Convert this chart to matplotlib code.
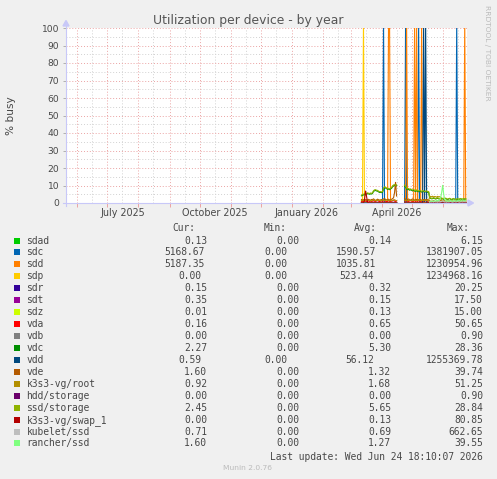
import numpy as np
import pandas as pd
import matplotlib
matplotlib.use('Agg')
import matplotlib.pyplot as plt
import matplotlib.dates as mdates
from matplotlib.patches import Rectangle, Polygon
from matplotlib.lines import Line2D

W, H, DPI = 497, 479, 100
nan = np.nan

# ---------------- data ----------------
title = "Utilization per device - by year"
ylabel = "% busy"
end_time = pd.Timestamp("2026-06-24 18:10:07")
start_time = end_time - pd.Timedelta(days=400)
data_start = pd.Timestamp("2026-03-11 12:00")
n_days = 105
GAP = [nan] * 7

names = ["sdad", "sdc", "sdd", "sdp", "sdr", "sdt", "sdz", "vda", "vdb", "vdc",
         "vdd", "vde", "k3s3-vg/root", "hdd/storage", "ssd/storage",
         "k3s3-vg/swap_1", "kubelet/ssd", "rancher/ssd"]
colors = ["#00CC00", "#0066B3", "#FF8000", "#FFCC00", "#330099", "#990099",
          "#CCFF00", "#FF0000", "#808080", "#008F00", "#00487D", "#B35A00",
          "#B38F00", "#6B006B", "#8FB300", "#B30000", "#BEBEBE", "#80FF80"]
cur_vals = [0.13, 5168.67, 5187.35, 0.00, 0.15, 0.35, 0.01, 0.16, 0.00, 2.27,
            0.59, 1.60, 0.92, 0.00, 2.45, 0.00, 0.71, 1.60]
min_vals = [0.00] * 18
avg_vals = [0.14, 1590.57, 1035.81, 523.44, 0.32, 0.15, 0.13, 0.65, 0.00, 5.30,
            56.12, 1.32, 1.68, 0.00, 5.65, 0.13, 0.69, 1.27]
max_vals = [6.15, 1381907.05, 1230954.96, 1234968.16, 20.25, 17.50, 15.00, 50.65,
            0.90, 28.36, 1255369.78, 39.74, 51.25, 0.90, 28.84, 80.85, 662.65, 39.55]

ssd_storage = ([4.5, 4.8, 5.0, 5.2, 5.0, 5.5, 5.8, 5.6, 5.4, 5.7, 5.5, 5.9,
                7.0, 7.5, 7.6, 7.3, 7.2, 6.8, 6.4, 6.5, 6.3, 6.6, 8.5, 9.3, 9.0,
                8.6, 8.2, 8.4, 8.0, 8.5, 8.8, 9.8, 10.3, 10.5, 10.1, 10.4] + GAP +
               [10.2, 9.5, 8.6, 8.0, 8.3, 7.8, 8.1, 7.6, 7.4, 7.8, 7.2, 7.0, 7.5,
                7.1, 6.8, 7.3, 7.0, 6.6, 7.2, 6.9, 6.5, 6.8, 7.0, 6.4, 6.6] +
               [3.2, 2.9, 2.6, 2.8, 3.1, 2.7, 2.5, 2.8, 3.0, 2.6, 2.4, 2.7, 2.9,
                2.5, 2.3, 2.6, 2.8, 2.4, 2.2, 2.5, 2.7, 2.3, 2.1, 2.4, 2.6, 2.2,
                2.0, 2.3, 2.5, 2.1, 2.4, 2.6, 2.2, 2.3, 2.5, 2.4, 2.45])
vdc = ([4.1, 4.4, 4.6, 4.9, 4.7, 5.1, 5.4, 5.2, 5.0, 5.3, 5.1, 5.5, 6.6, 7.0,
        7.2, 6.9, 6.8, 6.4, 6.0, 6.1, 5.9, 6.2, 8.0, 8.8, 8.6, 8.2, 7.8, 8.0,
        7.6, 8.1, 8.4, 9.3, 9.8, 10.0, 9.6, 9.9] + GAP +
       [9.7, 9.0, 8.1, 7.6, 7.8, 7.3, 7.6, 7.2, 7.0, 7.3, 6.8, 6.6, 7.0, 6.7,
        6.4, 6.8, 6.6, 6.2, 6.7, 6.5, 6.1, 6.4, 6.6, 6.0, 6.2] +
       [2.9, 2.6, 2.4, 2.5, 2.8, 2.5, 2.3, 2.5, 2.7, 2.4, 2.2, 2.5, 2.6, 2.3,
        2.1, 2.4, 2.5, 2.2, 2.0, 2.3, 2.5, 2.1, 1.9, 2.2, 2.4, 2.0, 1.8, 2.1,
        2.3, 1.9, 2.2, 2.4, 2.0, 2.1, 2.3, 2.2, 2.27])
vda = ([0.8, 1.2, 0.9, 1.5, 1.1, 0.7, 1.0, 1.3, 0.9, 1.2, 0.8, 1.1, 1.4, 1.0,
        0.9, 1.2, 1.6, 1.1, 0.8, 1.0, 1.3, 0.9, 1.2, 1.5, 1.0, 0.8, 1.1, 1.4,
        0.9, 1.2, 1.0, 1.3, 1.7, 1.1, 0.9, 1.2] + GAP +
       [1.3, 1.0, 1.5, 1.1, 0.9, 1.2, 1.4, 1.0, 0.8, 1.1, 1.3, 0.9, 1.2, 1.0,
        1.4, 1.1, 0.8, 1.0, 1.2, 0.9, 1.1, 1.3, 0.9, 0.7, 0.6] +
       [0.3, 0.2, 0.1, 0.2, 0.3, 0.2, 0.1, 0.2, 0.2, 0.1, 0.3, 0.2, 0.1, 0.2,
        0.2, 0.3, 0.1, 0.2, 0.2, 0.1, 0.2, 0.3, 0.2, 0.1, 0.2, 0.2, 0.1, 0.2,
        0.3, 0.2, 0.1, 0.2, 0.2, 0.1, 0.2, 0.15, 0.16])
vde = ([2.0, 1.6, 1.8, 2.2, 1.9, 1.5, 1.7, 2.1, 1.8, 1.6, 2.0, 1.9, 2.4, 1.8,
        1.5, 1.7, 2.2, 1.9, 1.6, 1.8, 2.0, 1.7, 2.3, 2.6, 2.0, 1.8, 1.9, 2.2,
        1.7, 1.9, 2.1, 2.5, 3.0, 6.0, 12.0, 4.0] + GAP +
       [2.6, 2.1, 1.8, 2.0, 2.3, 1.9, 1.7, 2.0, 2.4, 1.8, 1.6, 1.9, 2.1, 1.7,
        1.8, 2.2, 1.9, 1.6, 1.8, 2.0, 1.7, 1.9, 2.1, 1.8, 1.6] +
       [1.2, 1.0, 0.9, 1.1, 1.3, 1.0, 0.8, 1.0, 1.2, 0.9, 1.1, 1.4, 1.0, 0.8,
        1.0, 1.2, 0.9, 1.1, 1.3, 1.0, 0.9, 1.1, 1.2, 1.0, 0.8, 1.0, 1.3, 1.1,
        0.9, 1.0, 1.2, 1.4, 1.1, 1.3, 1.5, 1.4, 1.6])
k3s3_root = ([1.4, 1.8, 1.5, 1.2, 1.6, 1.9, 1.3, 1.5, 1.7, 1.4, 1.2, 1.6, 1.8,
              1.5, 1.3, 1.6, 1.4, 1.7, 1.5, 1.2, 1.4, 1.8, 1.6, 1.3, 1.5, 1.7,
              1.4, 1.6, 1.3, 1.5, 1.8, 1.4, 1.6, 1.9, 1.5, 1.3] + GAP +
             [1.6, 1.4, 1.7, 1.3, 1.5, 1.8, 1.4, 1.6, 1.2, 1.5, 1.7, 1.3, 1.6,
              1.4, 1.5, 1.8, 1.3, 1.5, 1.6, 1.4, 1.7, 1.5, 1.3, 1.6, 1.4] +
             [3.6, 3.8, 3.5, 3.9, 3.4, 3.7, 3.6, 3.3, 3.8, 3.5, 3.6, 3.2, 1.4,
              1.2, 1.0, 1.3, 1.1, 0.9, 1.2, 1.0, 1.3, 0.8, 1.1, 1.0, 0.9, 1.2,
              1.0, 0.8, 1.1, 0.9, 1.0, 1.2, 0.8, 1.0, 0.9, 1.1, 0.92])
rancher_ssd = ([nan] * 36 + GAP + [nan] * 25 +
               [0.8, 1.0, 1.2, 0.9, 1.1, 1.3, 1.0, 1.5, 1.2, 1.4, 1.8, 3.0, 6.0,
                10.3, 5.0, 2.0, 1.4, 1.1, 1.3, 1.0, 1.2, 1.5, 1.1, 0.9, 1.3, 1.6,
                1.2, 1.0, 1.4, 1.7, 1.3, 1.1, 1.5, 1.8, 1.4, 1.2, 1.6])
kubelet_ssd = ([nan] * 36 + GAP + [nan] * 25 +
               [0.5, 0.7, 0.6, 0.8, 0.5, 0.9, 0.6, 0.7, 0.5, 0.8, 0.6, 0.7, 0.9,
                1.2, 0.8, 0.6, 0.7, 0.5, 0.8, 0.6, 0.7, 0.9, 0.6, 0.5, 0.7, 0.8,
                0.6, 0.7, 0.9, 0.6, 0.5, 0.8, 0.7, 0.6, 0.8, 0.7, 0.71])
swap_1 = ([0.0, 0.0, 0.0, 1.5, 7.0, 4.0, 0.5] + [0.0] * 29 + GAP +
          [0.0] * 25 + [0.0] * 37)
sdad = [0.2] * 36 + GAP + [0.2] * 25 + [0.1] * 37
sdr = [0.4] * 36 + GAP + [0.3] * 25 + [0.15] * 37
sdt = [0.1] * 36 + GAP + [0.1] * 25 + [0.3] * 37
sdz = [0.1] * 36 + GAP + [0.1] * 25 + [0.0] * 37
vdb = [0.0] * 36 + GAP + [0.0] * 25 + [0.0] * 37
hdd_storage = [0.0] * 36 + GAP + [0.0] * 25 + [0.0] * 37
base_zero = [0.0] * 36 + GAP + [0.0] * 25 + [0.0] * 37

# huge counter-glitch spikes (day index, value)
sdc_spike_days = [22, 44, 57, 95]
sdc_spike_vals = [1381907.05, 760000.0, 540000.0, 980000.0]
sdd_spike_days = [27, 28, 45, 53, 55, 60, 103]
sdd_spike_vals = [1230954.96, 880000.0, 650000.0, 720000.0, 910000.0, 600000.0, 1100000.0]
sdp_spike_days = [2]
sdp_spike_vals = [1234968.16]
vdd_spike_days = [62, 63, 64]
vdd_spike_vals = [1255369.78, 0.5, 990000.0]


def with_spikes(days_, vals_):
    s = list(base_zero)
    for d, v in zip(days_, vals_):
        s[d] = v
    return s


series = {
    "sdad": sdad,
    "sdc": with_spikes(sdc_spike_days, sdc_spike_vals),
    "sdd": with_spikes(sdd_spike_days, sdd_spike_vals),
    "sdp": with_spikes(sdp_spike_days, sdp_spike_vals),
    "sdr": sdr, "sdt": sdt, "sdz": sdz, "vda": vda, "vdb": vdb, "vdc": vdc,
    "vdd": with_spikes(vdd_spike_days, vdd_spike_vals),
    "vde": vde, "k3s3-vg/root": k3s3_root, "hdd/storage": hdd_storage,
    "ssd/storage": ssd_storage, "k3s3-vg/swap_1": swap_1,
    "kubelet/ssd": kubelet_ssd, "rancher/ssd": rancher_ssd,
}

# ---------------- figure ----------------
BG = "#F0F0F0"
TXT = "#484848"
AXC = "#C8C8F8"
fig = plt.figure(figsize=(W / DPI, H / DPI), dpi=DPI, facecolor=BG)


def fx(px):
    return px / W


def fy(py):
    return 1 - py / H


ax = fig.add_axes([fx(66), fy(203), 401 / W, 175 / H])
ax.set_facecolor("white")
for sp in ax.spines.values():
    sp.set_visible(False)

x0 = mdates.date2num(start_time)
x1 = mdates.date2num(end_time)
ax.set_xlim(x0, x1)
ax.set_ylim(0, 100)

# grid
for v in range(5, 100, 10):
    ax.axhline(v, color="#D2D2D2", lw=0.7, ls=(0, (1, 2)), zorder=1)
for v in range(10, 101, 10):
    ax.axhline(v, color="#EBA3A3", lw=0.7, ls=(0, (1, 2)), zorder=1.2)
month_starts = pd.date_range("2025-06-01", "2026-06-01", freq="MS")
mid_months = [m + pd.Timedelta(days=15) for m in month_starts]
for m in mid_months:
    xm = mdates.date2num(m)
    if x0 < xm < x1:
        ax.axvline(xm, color="#D2D2D2", lw=0.7, ls=(0, (1, 2)), zorder=1)
for m in month_starts:
    ax.axvline(mdates.date2num(m), color="#EBA3A3", lw=0.7, ls=(0, (1, 2)), zorder=1.2)

ax.set_xticks([mdates.date2num(m) for m in month_starts], minor=False)
ax.tick_params(axis="x", which="major", length=3, color="#EBA3A3", labelbottom=False, width=0.7)
ax.set_yticks(range(0, 101, 10))
ax.set_yticklabels([str(v) for v in range(0, 101, 10)])
ax.tick_params(axis="y", length=2.2, color="#B0B0B0", width=0.7, pad=2.6,
               labelsize=6.6, labelcolor=TXT)

# x labels centred mid-month
label_months = [pd.Timestamp("2025-07-16"), pd.Timestamp("2025-10-16"),
                pd.Timestamp("2026-01-16"), pd.Timestamp("2026-04-16")]
for m in label_months:
    ax.text(mdates.date2num(m), -13 / 175, m.strftime("%B %Y"), transform=ax.get_xaxis_transform(),
            ha="center", va="baseline", fontsize=6.9, color=TXT)

# data lines (like rrdtool, values far above the canvas are limited just above the top edge)
days = pd.date_range(data_start, periods=n_days, freq="D")
xd = mdates.date2num(days)
for name, col in zip(names, colors):
    vals = np.array(series[name], dtype=float)
    vals = np.where(vals > 104, 104, vals)
    ax.plot(xd, vals, color=col, lw=0.8, zorder=3, solid_joinstyle="miter")

# axes lines with arrows
fig.add_artist(Line2D([fx(66), fx(66)], [fy(206), fy(24)], color=AXC, lw=0.8, zorder=5))
fig.add_artist(Line2D([fx(63), fx(470)], [fy(203), fy(203)], color=AXC, lw=0.8, zorder=5))
fig.add_artist(Polygon([[fx(63), fy(26)], [fx(69), fy(26)], [fx(66), fy(20.5)]], closed=True,
                       transform=fig.transFigure, color=AXC, zorder=5))
fig.add_artist(Polygon([[fx(468), fy(200)], [fx(468), fy(206)], [fx(473.5), fy(203)]], closed=True,
                       transform=fig.transFigure, color=AXC, zorder=5))

# titles
fig.text(fx(248), fy(24), title, ha="center", va="baseline", fontsize=8.95, color="#555555")
fig.text(fx(10.5), fy(115.5), ylabel, ha="center", va="center", rotation=90,
         fontsize=7.6, color=TXT)
fig.text(fx(487), fy(5), "RRDTOOL / TOBI OETIKER", ha="center", va="top", rotation=270,
         fontsize=5.4, color="#BBBBBB")

# legend
LEG_FS = 6.94
mono = "DejaVu Sans Mono"
char_w = 0.602 * LEG_FS * DPI / 72
row0, row_h = 243.5, 11.94
label_end, right_end = 115.0, 483.0

for txt, xr in zip(["Cur:", "Min:", "Avg:", "Max:"], [195, 287, 377, 470]):
    fig.text(fx(xr), fy(231), txt, ha="right", va="baseline", fontsize=LEG_FS,
             family=mono, color=TXT)

for i, (name, col) in enumerate(zip(names, colors)):
    yb = row0 + i * row_h
    fig.add_artist(Rectangle((fx(14), fy(yb)), 6 / W, 6 / H, transform=fig.transFigure,
                             facecolor=col, edgecolor="none"))
    fig.text(fx(26.5), fy(yb), name, ha="left", va="baseline", fontsize=LEG_FS,
             family=mono, color=TXT)
    strs = [f"{v:.2f}" for v in (cur_vals[i], min_vals[i], avg_vals[i], max_vals[i])]
    widths = [max(6, len(s)) * char_w for s in strs]
    gap = (right_end - label_end - sum(widths)) / 4
    xr = label_end
    for s, w in zip(strs, widths):
        xr += gap + w
        fig.text(fx(xr), fy(yb), s, ha="right", va="baseline", fontsize=LEG_FS,
                 family=mono, color=TXT)

fig.text(fx(483), fy(459.5), "Last update: Wed Jun 24 18:10:07 2026", ha="right",
         va="baseline", fontsize=LEG_FS, family=mono, color=TXT)
fig.text(fx(247.5), fy(470.5), "Munin 2.0.76", ha="center", va="baseline", fontsize=5.4,
         color="#BBBBBB")

fig.savefig("out.png", dpi=DPI, facecolor=BG)
